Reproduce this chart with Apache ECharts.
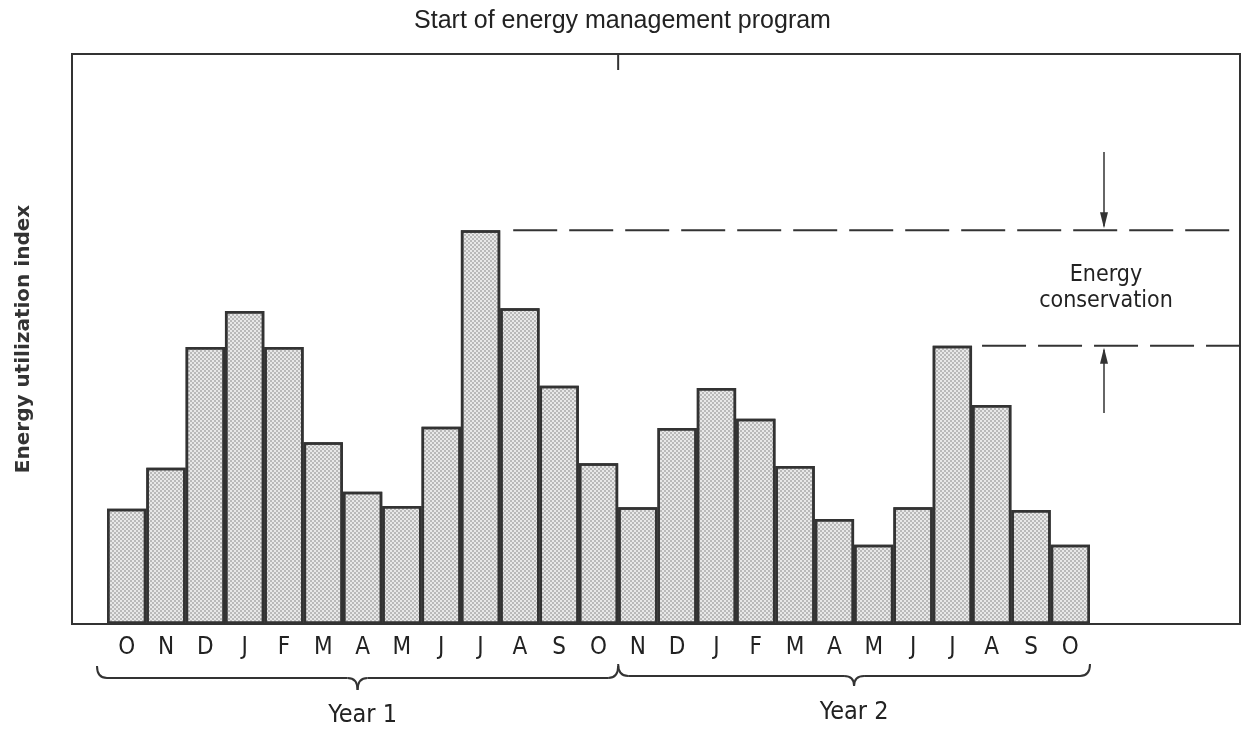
<!DOCTYPE html>
<html>
<head>
<meta charset="utf-8">
<script src="https://cdn.jsdelivr.net/npm/echarts@6/dist/echarts.min.js"></script>
<style>
  html, body { margin: 0; padding: 0; background: #fff; }
  #main { width: 1245px; height: 733px; }
</style>
</head>
<body>
<div id="main"></div>
<script>
// months, Oct of year 1 through Oct of year 2
var months = ['O', 'N', 'D', 'J', 'F', 'M', 'A', 'M', 'J', 'J', 'A', 'S', 'O',
              'N', 'D', 'J', 'F', 'M', 'A', 'M', 'J', 'J', 'A', 'S', 'O'];
// energy utilization index (relative units)
var year1Values = [20.2, 27.4, 48.6, 54.9, 48.6, 31.9, 23.2, 20.7, 34.6, 69.1, 55.4, 41.8, 28.2];
var year2Values = [20.5, 34.4, 41.4, 36.0, 27.7, 18.4, 13.9, 20.5, 48.8, 38.4, 20.0, 13.9];
var yearLabels = ['Year 1', 'Year 2'];

var values = year1Values.concat(year2Values);
var peak1 = Math.max.apply(null, year1Values);
var peak2 = Math.max.apply(null, year2Values);
var ink = '#333';
var sans = '"Liberation Sans", Arial, sans-serif';
var narrow = '"DejaVu Sans Condensed", "Liberation Sans Narrow", "Liberation Sans", Arial, sans-serif';

var chart = echarts.init(document.getElementById('main'));

chart.setOption({
  animation: false,
  backgroundColor: '#fff',
  title: {
    text: 'Start of energy management program',
    left: 'center',
    top: 4,
    textStyle: { fontFamily: sans, fontSize: 25, fontWeight: 'normal', color: '#222' }
  },
  grid: [
    // frame
    { left: 72, right: 5, top: 54, bottom: 109, show: true, borderColor: ink, borderWidth: 2 },
    // bars
    { left: 107, right: 155, top: 54, bottom: 109 }
  ],
  xAxis: [
    { gridIndex: 0, type: 'value', min: 0, max: 1, show: false },
    {
      gridIndex: 1,
      type: 'category',
      data: months,
      axisLine: { show: false },
      axisTick: { show: false },
      axisLabel: { fontFamily: narrow, fontSize: 24, color: '#222', margin: 12 }
    }
  ],
  yAxis: [
    {
      gridIndex: 0, type: 'value', min: 0, max: 1,
      axisLine: { show: false }, axisTick: { show: false }, axisLabel: { show: false }, splitLine: { show: false },
      name: 'Energy utilization index',
      nameLocation: 'middle',
      nameGap: 38,
      nameTextStyle: { fontFamily: '"DejaVu Sans", Verdana, sans-serif', fontSize: 20, fontWeight: 'bold', color: '#333' }
    },
    { gridIndex: 1, type: 'value', min: 0, max: 100, show: false }
  ],
  series: [{
    type: 'bar',
    xAxisIndex: 1,
    yAxisIndex: 1,
    data: values,
    barCategoryGap: 0,
    itemStyle: {
      color: '#e8e8e8',
      borderColor: ink,
      borderWidth: 2.5,
      decal: {
        symbol: 'circle',
        symbolSize: 0.8,
        color: 'rgba(70,70,70,0.65)',
        dashArrayX: [[2, 2], [0, 2, 2, 0]],
        dashArrayY: [2, 0],
        rotation: 0
      }
    }
  }]
});

function px(idx, v) {
  return chart.convertToPixel({ gridIndex: 1 }, [idx, v]);
}

var band = px(1, 0)[0] - px(0, 0)[0];
var frameRight = 1240;
var y1Line = px(0, peak1)[1];
var y2Line = px(0, peak2)[1];
var split = (px(12, 0)[0] + px(13, 0)[0]) / 2;
var firstLeft = px(0, 0)[0] - band / 2;
var lastRight = px(months.length - 1, 0)[0] + band / 2;
var arrowX = 1104;

var lineStyle = { stroke: ink, lineWidth: 2, fill: null };
var dashStyle = { stroke: ink, lineWidth: 2, lineDash: [44, 12], fill: null };

// curly brace made of straight pieces and quadratic curves
function brace(x1, x2, xm, y0, y1, y2) {
  var r = 10;
  function curve(ax, ay, cx, cy, bx, by) {
    return { type: 'bezierCurve', shape: { x1: ax, y1: ay, cpx1: cx, cpy1: cy, x2: bx, y2: by }, style: lineStyle };
  }
  function seg(ax, ay, bx, by) {
    return { type: 'line', shape: { x1: ax, y1: ay, x2: bx, y2: by }, style: lineStyle };
  }
  return [
    curve(x1, y0, x1, y1, x1 + r, y1),
    seg(x1 + r, y1, xm - r, y1),
    curve(xm - r, y1, xm, y1, xm, y2),
    curve(xm, y2, xm, y1, xm + r, y1),
    seg(xm + r, y1, x2 - r, y1),
    curve(x2 - r, y1, x2, y1, x2, y0)
  ];
}

var mid1 = (firstLeft - 10 + split) / 2;
var mid2 = (split + lastRight) / 2;

var graphics = [
  // start-of-program tick
  { type: 'line', shape: { x1: split, y1: 54, x2: split, y2: 70 }, style: lineStyle },
  // dashed reference lines
  { type: 'line', shape: { x1: px(10, 0)[0] - band / 2 + 13, y1: y1Line, x2: frameRight, y2: y1Line }, style: dashStyle },
  { type: 'line', shape: { x1: px(22, 0)[0] - band / 2 + 10, y1: y2Line, x2: frameRight, y2: y2Line }, style: dashStyle },
  // arrows
  { type: 'line', shape: { x1: arrowX, y1: 152, x2: arrowX, y2: y1Line - 4 }, style: { stroke: ink, lineWidth: 1.5 } },
  { type: 'polygon', shape: { points: [[arrowX - 4, y1Line - 18], [arrowX + 4, y1Line - 18], [arrowX, y1Line - 2]] }, style: { fill: ink } },
  { type: 'line', shape: { x1: arrowX, y1: 413, x2: arrowX, y2: y2Line + 4 }, style: { stroke: ink, lineWidth: 1.5 } },
  { type: 'polygon', shape: { points: [[arrowX - 4, y2Line + 18], [arrowX + 4, y2Line + 18], [arrowX, y2Line + 2]] }, style: { fill: ink } },
  {
    type: 'text', x: 1106, y: (y1Line + y2Line) / 2,
    style: {
      text: 'Energy\nconservation', align: 'center', verticalAlign: 'middle',
      font: '23px ' + narrow, fill: '#222', lineHeight: 26
    }
  },
  {
    type: 'text', x: mid1 + 5, y: 715,
    style: { text: yearLabels[0], align: 'center', verticalAlign: 'middle', font: '25px ' + narrow, fill: '#222' }
  },
  {
    type: 'text', x: mid2, y: 712,
    style: { text: yearLabels[1], align: 'center', verticalAlign: 'middle', font: '25px ' + narrow, fill: '#222' }
  }
];
graphics = graphics
  .concat(brace(firstLeft - 10, split, mid1, 666, 678, 690))
  .concat(brace(split, lastRight, mid2, 664, 676, 686));

chart.setOption({ graphic: graphics });
</script>
</body>
</html>
